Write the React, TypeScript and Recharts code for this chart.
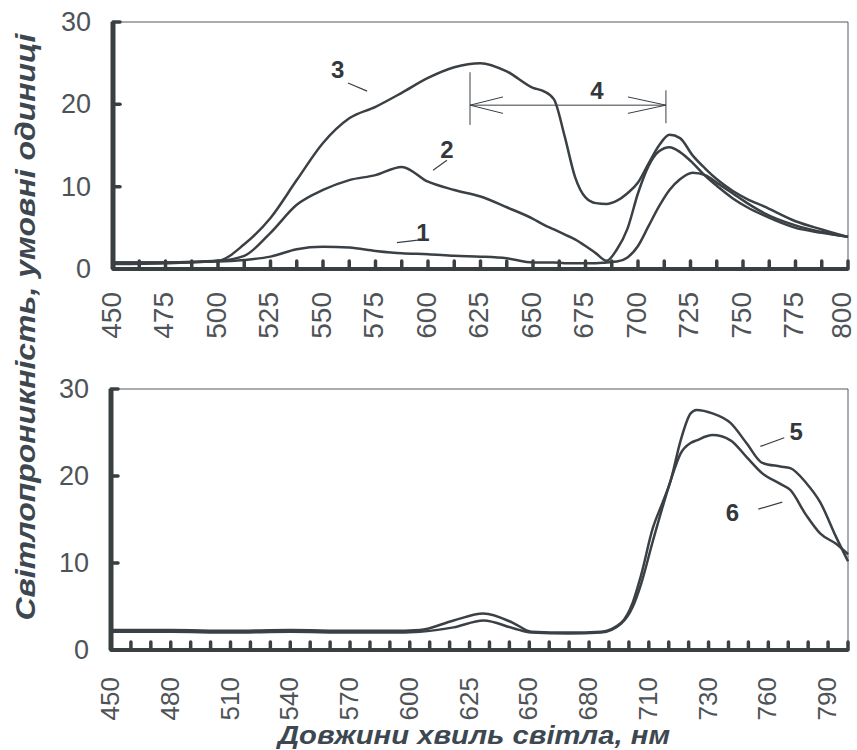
import React from 'react';
import { LineChart, Line, XAxis, YAxis, ReferenceLine, ReferenceDot } from 'recharts';

// top panel: wavelength, nm
const topWave = [450, 475, 500, 512.5, 525, 537.5, 550, 562.5, 575, 587.5, 600, 612.5, 625, 637.5, 650, 655, 660, 665, 670, 675, 680, 685, 690, 695, 700, 705, 710, 715, 720, 726, 732, 738, 745, 752, 760, 775, 787.5, 800];
const curve1 = [0.8, 0.8, 0.9, 1.1, 1.5, 2.4, 2.7, 2.6, 2.2, 1.9, 1.8, 1.6, 1.5, 1.3, 0.8, 0.8, 0.8, 0.7, 0.7, 0.7, 0.7, 0.8, 0.9, 1.4, 2.8, 5.2, 7.6, 9.6, 10.9, 11.7, 11.4, 10.4, 9.2, 8.0, 6.8, 5.3, 4.5, 3.9];
const curve2 = [0.8, 0.8, 1.0, 1.6, 4.4, 7.8, 9.6, 10.8, 11.4, 12.4, 10.6, 9.6, 8.8, 7.5, 6.1, 5.4, 4.8, 4.2, 3.6, 2.8, 1.9, 1.0, 2.4, 4.9, 9.2, 12.5, 14.3, 14.8, 14.2, 12.9, 11.3, 10.0, 8.6, 7.5, 6.5, 5.0, 4.4, 3.9];
const curve3 = [0.6, 0.7, 1.0, 3.0, 6.2, 10.8, 15.3, 18.3, 19.7, 21.4, 23.2, 24.5, 25.0, 24.0, 22.0, 21.6, 20.6, 16.2, 11.2, 8.7, 8.0, 7.9, 8.3, 9.2, 10.5, 12.8, 15.0, 16.3, 15.9, 13.8, 12.2, 10.8, 9.5, 8.5, 7.6, 5.8, 4.8, 3.9];
const topLabels = [450, 475, 500, 525, 550, 575, 600, 625, 650, 675, 700, 725, 750, 775, 800];

// bottom panel: category axis, one step per tick, label every third tick
const bottomLabels = ['450', '480', '510', '540', '570', '600', '625', '650', '680', '710', '730', '760', '790'];
const bottomPos = [0, 3, 6, 9, 12, 14, 15.5, 17.2, 18.7, 20.2, 21.1, 23, 24.6, 25.6, 26.2, 26.6, 27.2, 27.7, 28.1, 28.6, 29.1, 29.4, 30.2, 31.1, 31.9, 32.7, 33.6, 34.1, 34.9, 35.6, 36.4, 37];
const curve5 = [2.3, 2.3, 2.2, 2.3, 2.2, 2.2, 2.3, 3.4, 4.2, 3.1, 2.1, 2.0, 2.1, 3.1, 5.5, 8.5, 14.0, 17.0, 19.5, 24.1, 27.2, 27.6, 27.2, 26.1, 23.8, 21.5, 21.1, 20.9, 19.2, 17.0, 13.0, 10.2];
const curve6 = [2.1, 2.1, 2.0, 2.1, 2.0, 2.0, 2.1, 2.6, 3.4, 2.5, 2.0, 1.9, 2.0, 3.0, 5.0, 7.5, 12.5, 16.5, 19.5, 22.6, 23.8, 24.1, 24.7, 24.1, 22.2, 20.3, 19.1, 18.4, 15.5, 13.4, 12.2, 11.0];

const yTicks = [0, 10, 20, 30];

const INK = '#3b4045';
const AXIS = '#3a3f42';
const TICK_TEXT = '#4e5357';
const FONT = '"Liberation Sans", Arial, sans-serif';

const topData = topWave.map((w, k) => ({ w, c1: curve1[k], c2: curve2[k], c3: curve3[k] }));
const bottomData = bottomPos.map((i, k) => ({ i, c5: curve5[k], c6: curve6[k] }));

const topTicks: number[] = [];
topLabels.forEach((v, k) => {
  topTicks.push(v);
  if (k < topLabels.length - 1) topTicks.push(v + 12.5);
});
const bottomTicks = Array.from({ length: 38 }, (_, k) => k);

const TopXTick = (props: any) => {
  const { x, y, payload } = props;
  const v = payload.value;
  // keep the last label inside the page
  const tx = Math.min(x - 2, 841);
  const ty = y + 23;
  return (
    <g>
      <line x1={x} x2={x} y1={y} y2={y - 8} stroke={AXIS} strokeWidth={3.5} strokeLinecap="round" />
      {topLabels.includes(v) && (
        <text x={tx} y={ty} transform={`rotate(-90 ${tx} ${ty})`} textAnchor="end" dominantBaseline="central"
          fontFamily={FONT} fontSize={28} fill={TICK_TEXT}>{v}</text>
      )}
    </g>
  );
};

const BottomXTick = (props: any) => {
  const { x, y, payload } = props;
  const v = payload.value;
  const tx = x - 1;
  const ty = y + 27;
  return (
    <g>
      <line x1={x} x2={x} y1={y} y2={y - 8} stroke={AXIS} strokeWidth={3.5} strokeLinecap="round" />
      {v % 3 === 0 && (
        <text x={tx} y={ty} transform={`rotate(-90 ${tx} ${ty})`} textAnchor="end" dominantBaseline="central"
          fontFamily={FONT} fontSize={26} fill={TICK_TEXT}>{bottomLabels[v / 3]}</text>
      )}
    </g>
  );
};

const YTick = (props: any) => {
  const { x, y, payload } = props;
  return (
    <g>
      <line x1={x} x2={x + 7} y1={y} y2={y} stroke={AXIS} strokeWidth={3.5} strokeLinecap="round" />
      <text x={x - 22} y={y} textAnchor="end" dominantBaseline="central" fontFamily={FONT} fontSize={27} fill={TICK_TEXT}>
        {payload.value}
      </text>
    </g>
  );
};

const numLabel = (value: string) => ({
  value,
  position: 'center' as const,
  fontSize: 24,
  fontWeight: 'bold',
  fontFamily: FONT,
  fill: '#34383c',
});

const thin = { stroke: '#555a5e', strokeWidth: 1 };

export default function App() {
  return (
    <div style={{ position: 'absolute', left: 0, top: 0, width: 857, height: 750, background: '#fff' }}>
      <div style={{ position: 'absolute', left: 0, top: 0 }}>
        <LineChart width={857} height={360} data={topData} margin={{ top: 22, right: 9, bottom: 11, left: 33 }}>
          <XAxis dataKey="w" type="number" domain={[450, 800]} ticks={topTicks} interval={0} height={80}
            tickSize={0} tickMargin={0} tick={<TopXTick />} axisLine={{ stroke: AXIS, strokeWidth: 4 }} tickLine={false} />
          <YAxis type="number" domain={[0, 30]} ticks={yTicks} width={80} tickSize={0} tickMargin={0}
            tick={<YTick />} axisLine={{ stroke: AXIS, strokeWidth: 5 }} tickLine={false} />
          <ReferenceLine y={30} {...thin} />
          <ReferenceLine x={800} {...thin} />
          <Line dataKey="c1" type="monotone" stroke={INK} strokeWidth={2.5} dot={false} isAnimationActive={false} />
          <Line dataKey="c2" type="monotone" stroke={INK} strokeWidth={2.5} dot={false} isAnimationActive={false} />
          <Line dataKey="c3" type="monotone" stroke={INK} strokeWidth={2.5} dot={false} isAnimationActive={false} />
          {/* annotations */}
          <ReferenceLine segment={[{ x: 561.9, y: 22.6 }, { x: 571, y: 21.6 }]} stroke={INK} strokeWidth={1.2} />
          <ReferenceLine segment={[{ x: 609, y: 13.2 }, { x: 602.4, y: 12.0 }]} stroke={INK} strokeWidth={1.2} />
          <ReferenceLine segment={[{ x: 585.2, y: 3.2 }, { x: 595.2, y: 3.5 }]} stroke={INK} strokeWidth={1.2} />
          <ReferenceDot x={557} y={24.2} r={0} fill="none" stroke="none" label={numLabel('3')} />
          <ReferenceDot x={609} y={14.5} r={0} fill="none" stroke="none" label={numLabel('2')} />
          <ReferenceDot x={597.6} y={4.4} r={0} fill="none" stroke="none" label={numLabel('1')} />
          <ReferenceDot x={680.5} y={21.7} r={0} fill="none" stroke="none" label={numLabel('4')} />
          <ReferenceLine segment={[{ x: 620, y: 19.9 }, { x: 713.3, y: 19.9 }]} stroke={INK} strokeWidth={1} />
          <ReferenceLine segment={[{ x: 620, y: 23.9 }, { x: 620, y: 17.5 }]} stroke={INK} strokeWidth={1} />
          <ReferenceLine segment={[{ x: 713.3, y: 21.7 }, { x: 713.3, y: 17.7 }]} stroke={INK} strokeWidth={1} />
          <ReferenceLine segment={[{ x: 620, y: 19.9 }, { x: 635.7, y: 20.9 }]} stroke={INK} strokeWidth={1} />
          <ReferenceLine segment={[{ x: 620, y: 19.9 }, { x: 635.7, y: 18.9 }]} stroke={INK} strokeWidth={1} />
          <ReferenceLine segment={[{ x: 713.3, y: 19.9 }, { x: 695.2, y: 20.9 }]} stroke={INK} strokeWidth={1} />
          <ReferenceLine segment={[{ x: 713.3, y: 19.9 }, { x: 695.2, y: 18.9 }]} stroke={INK} strokeWidth={1} />
        </LineChart>
      </div>
      <div style={{ position: 'absolute', left: 0, top: 360 }}>
        <LineChart width={857} height={390} data={bottomData} margin={{ top: 29, right: 9, bottom: 20, left: 31 }}>
          <XAxis dataKey="i" type="number" domain={[0, 37]} ticks={bottomTicks} interval={0} height={80}
            tickSize={0} tickMargin={0} tick={<BottomXTick />} axisLine={{ stroke: AXIS, strokeWidth: 4 }} tickLine={false} />
          <YAxis type="number" domain={[0, 30]} ticks={yTicks} width={80} tickSize={0} tickMargin={0}
            tick={<YTick />} axisLine={{ stroke: AXIS, strokeWidth: 5 }} tickLine={false} />
          <ReferenceLine y={30} {...thin} />
          <ReferenceLine x={37} {...thin} />
          <Line dataKey="c5" type="monotone" stroke={INK} strokeWidth={2.5} dot={false} isAnimationActive={false} />
          <Line dataKey="c6" type="monotone" stroke={INK} strokeWidth={2.5} dot={false} isAnimationActive={false} />
          <ReferenceLine segment={[{ x: 32.6, y: 23.4 }, { x: 33.8, y: 24.4 }]} stroke={INK} strokeWidth={1.2} />
          <ReferenceLine segment={[{ x: 32.5, y: 16.2 }, { x: 33.7, y: 17.0 }]} stroke={INK} strokeWidth={1.2} />
          <ReferenceDot x={34.4} y={25.1} r={0} fill="none" stroke="none" label={numLabel('5')} />
          <ReferenceDot x={31.2} y={15.8} r={0} fill="none" stroke="none" label={numLabel('6')} />
        </LineChart>
      </div>
      <svg width={857} height={750} style={{ position: 'absolute', left: 0, top: 0, pointerEvents: 'none' }}>
        <text x={26} y={327} transform="rotate(-90 26 327)" textAnchor="middle" dominantBaseline="central"
          fontFamily={FONT} fontStyle="italic" fontWeight="bold" fontSize={27} fill="#3d4750"
          textLength={587} lengthAdjust="spacingAndGlyphs">Світлопроникність, умовні одиниці</text>
        <text x={474} y={735} textAnchor="middle" dominantBaseline="central"
          fontFamily={FONT} fontStyle="italic" fontWeight="bold" fontSize={26} fill="#3d4750"
          textLength={392} lengthAdjust="spacingAndGlyphs">Довжини хвиль світла, нм</text>
      </svg>
    </div>
  );
}
